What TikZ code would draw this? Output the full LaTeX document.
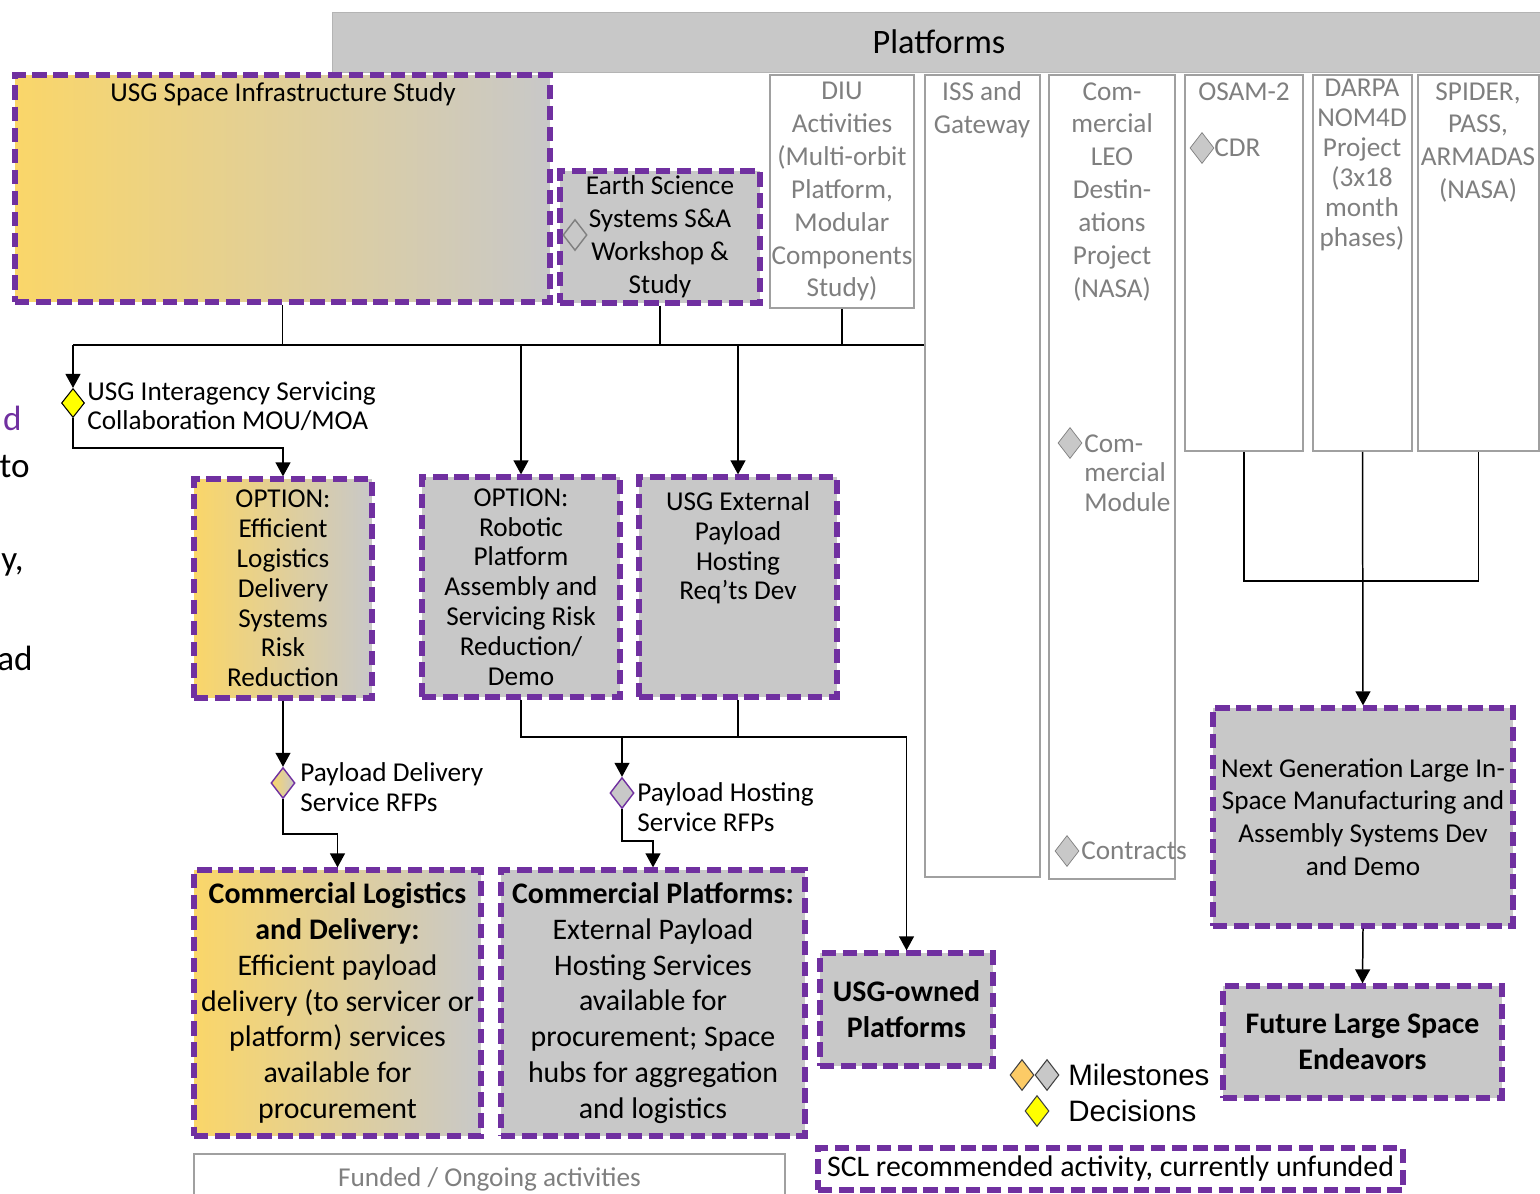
\documentclass[tikz,border=0pt]{standalone}
\usepackage{fontspec}
\setmainfont{Carlito}
\newfontfamily\legendfont{Liberation Sans}
\usetikzlibrary{arrows.meta,shapes.geometric}

\definecolor{sclpurple}{HTML}{7030A0}
\definecolor{boxgrey}{HTML}{C8C8C8}
\definecolor{boxedge}{HTML}{B4B4B4}
\definecolor{colgrey}{HTML}{7F7F7F}
\definecolor{coledge}{HTML}{A0A0A0}
\definecolor{gold}{HTML}{FAD669}
\definecolor{msgold}{HTML}{FCCB66}
\definecolor{decyellow}{HTML}{FFFF00}

\begin{document}
\begin{tikzpicture}[x=0.02cm, y=-0.02cm,
  every node/.style={font=\fontsize{15.5}{17}\selectfont},
  >={Triangle[width=8.5pt,length=8pt]},
  unfunded/.style={draw=sclpurple, line width=3pt, dash pattern=on 8.2pt off 3.8pt,
    inner sep=1pt, align=center},
  greybox/.style={unfunded, fill=boxgrey},
  goldbox/.style={unfunded, left color=gold, right color=boxgrey},
  ongoing/.style={draw=coledge, line width=1pt, fill=white},
  coltext/.style={text=colgrey, align=center, inner sep=0pt,
    font=\fontsize{15.5}{18.7}\selectfont},
  ms/.style={diamond, inner sep=0pt, minimum width=0.48cm, minimum height=0.62cm},
  bigtext/.style={font=\fontsize{17}{20.4}\selectfont}]

\useasboundingbox (0,0) rectangle (1540,1193);
\clip (0,0) rectangle (1540,1193);

\node [fill=boxgrey, draw=boxedge, minimum width=24.28cm, minimum height=1.2cm,
  font=\fontsize{19.5}{23}\selectfont] (plat) at (939,42) {Platforms};

% platform columns
\node [ongoing, minimum width=2.88cm, minimum height=4.66cm] (diu) at (842,191.5) {};
\node [ongoing, minimum width=2.3cm, minimum height=16.04cm] (iss) at (982.5,476) {};
\node [ongoing, minimum width=2.52cm, minimum height=16.08cm] (leo) at (1112,477) {};
\node [ongoing, minimum width=2.36cm, minimum height=7.52cm] (osam) at (1244,263) {};
\node [ongoing, minimum width=1.98cm, minimum height=7.52cm] (darpa) at (1362.5,263) {};
\node [ongoing, minimum width=2.42cm, minimum height=7.52cm] (spider) at (1478.5,263) {};

\node [coltext, anchor=north] (diutxt) at (842,82) {DIU\\Activities\\(Multi-orbit\\Platform,\\Modular\\Components\\Study)};
\node [coltext, anchor=north] (isstxt) at (982,81) {ISS and\\Gateway};
\node [coltext, anchor=north] (leotxt) at (1112,82) {Com-\\mercial\\LEO\\Destin-\\ations\\Project\\(NASA)};
\node [coltext, anchor=north] (osamtxt) at (1244,82) {OSAM-2};
\node [coltext, anchor=north, font=\fontsize{15.5}{17}\selectfont] (darpatxt) at (1362,79) {DARPA\\NOM4D\\Project\\(3x18\\month\\phases)};
\node [coltext, anchor=north] (spidertxt) at (1478,82) {SPIDER,\\PASS,\\ARMADAS\\(NASA)};

\node [ms, fill=boxgrey, draw=colgrey] (cdr) at (1202,148) {};
\node [coltext, anchor=west] (cdrtxt) at (1214,148) {CDR};
\node [ms, fill=boxgrey, draw=colgrey] (modms) at (1070,443) {};
\node [coltext, anchor=north west, align=left, font=\fontsize{15.5}{17}\selectfont] (modtxt) at (1084,434) {Com-\\mercial\\Module};
\node [ms, fill=boxgrey, draw=colgrey] (contr) at (1067,851) {};
\node [coltext, anchor=west] (contrtxt) at (1081,851) {Contracts};

% recommended activities
\node [goldbox, minimum width=10.7cm, minimum height=4.54cm] (infra) at (282.5,188.5) {};
\node [anchor=north, inner sep=0pt] (infratxt) at (283,82) {USG Space Infrastructure Study};
\node [greybox, font=\fontsize{15.5}{18.7}\selectfont, minimum width=4cm, minimum height=2.64cm] (earth) at (660,237)
  {Earth Science\\Systems S\&A\\Workshop \&\\Study};
\node [ms, draw=colgrey, line width=0.8pt] (earthms) at (575,235) {};

\node [ms, fill=decyellow, draw=black, line width=0.6pt, minimum width=0.46cm,
  minimum height=0.58cm] (decide) at (73,403) {};
\node [anchor=north west, align=left, inner sep=0pt] (decidetxt) at (87,381)
  {USG Interagency Servicing\\Collaboration MOU/MOA};

\node [goldbox, minimum width=3.56cm, minimum height=4.38cm] (logopt) at (283,588.5)
  {OPTION:\\Efficient\\Logistics\\Delivery\\Systems\\Risk\\Reduction};
\node [greybox, minimum width=3.96cm, minimum height=4.4cm] (robopt) at (521,587)
  {OPTION:\\Robotic\\Platform\\Assembly and\\Servicing Risk\\Reduction/\\Demo};
\node [greybox, minimum width=3.96cm, minimum height=4.4cm] (hostreq) at (738,587) {};
\node [anchor=north, align=center, inner sep=0pt] (hostreqtxt) at (738,491)
  {USG External\\Payload\\Hosting\\Req’ts Dev};

\node [ms, left color=gold, right color=boxgrey, draw=sclpurple, line width=0.8pt] (delrfp) at (283,783) {};
\node [anchor=north west, align=left, inner sep=0pt] (delrfptxt) at (300,762)
  {Payload Delivery\\Service RFPs};
\node [ms, fill=boxgrey, draw=sclpurple, line width=0.8pt] (hostrfp) at (622,793) {};
\node [anchor=north west, align=left, inner sep=0pt] (hostrfptxt) at (637,782)
  {Payload Hosting\\Service RFPs};

\node [goldbox, bigtext, minimum width=5.74cm, minimum height=5.32cm] (comlog) at (337.5,1003)
  {\textbf{Commercial Logistics}\\\textbf{and Delivery:}\\Efficient payload\\delivery (to servicer or\\platform) services\\available for\\procurement};
\node [greybox, bigtext, minimum width=6.08cm, minimum height=5.32cm] (complat) at (653,1003)
  {\textbf{Commercial Platforms:}\\External Payload\\Hosting Services\\available for\\procurement; Space\\hubs for aggregation\\and logistics};
\node [greybox, bigtext, minimum width=3.46cm, minimum height=2.26cm] (usgown) at (906.5,1009.5)
  {\textbf{USG-owned}\\\textbf{Platforms}};

\node [greybox, font=\fontsize{15.5}{18.7}\selectfont, minimum width=6cm, minimum height=4.36cm] (nextgen) at (1363,817)
  {Next Generation Large In-\\Space Manufacturing and\\Assembly Systems Dev\\and Demo};
\node [greybox, bigtext, minimum width=5.58cm, minimum height=2.24cm] (future) at (1362.5,1042)
  {\textbf{Future Large Space}\\\textbf{Endeavors}};

% legend
\node [ms, fill=msgold, draw=black!75, line width=0.6pt] (msa) at (1022,1075) {};
\node [ms, fill=boxgrey, draw=black!75, line width=0.6pt] (msb) at (1047,1075) {};
\node [ms, fill=decyellow, draw=black!75, line width=0.6pt] (msc) at (1037,1111) {};
\node [anchor=west, inner sep=0pt, font=\legendfont\fontsize{16.8}{20}\selectfont] (mstxt) at (1068,1075) {Milestones};
\node [anchor=west, inner sep=0pt, font=\legendfont\fontsize{16.8}{20}\selectfont] (dectxt) at (1068,1111) {Decisions};

\node [ongoing, text=colgrey, minimum width=11.82cm, minimum height=1cm] (funded) at (489.5,1179)
  {Funded / Ongoing activities};
\node [unfunded, bigtext, minimum width=11.7cm, minimum height=0.84cm, inner sep=0pt] (scl) at (1110.5,1169)
  {SCL recommended activity, currently unfunded};

% text running in from the left
\begin{scope}[every node/.style={anchor=east, inner sep=0pt, font=\fontsize{20}{24}\selectfont}]
  \node [text=sclpurple] (cutd) at (22,418) {d};
  \node (cutto) at (30,467) {to};
  \node (cuty) at (24,565) {y,};
  \node (cutad) at (33,658) {ad};
\end{scope}

\coordinate (bus) at (73,345);
\coordinate (hostbus) at (622,737);

\begin{scope}[line width=0.85pt]
  \draw (bus) -- (bus -| iss.west);
  \draw (infra.south) -- (infra.south |- bus); \draw (earth.south) --
  (earth.south |- bus); \draw (diu.south) -- (diu.south |- bus);
  \draw [->] (bus) -- (decide.north);
  \draw [->] (robopt.north |- bus) -- (robopt.north);
  \draw [->] (hostreq.north |- bus) -- (hostreq.north);

  \draw [->] (decide.south) -- ++(0,30) -| (logopt.north);
  \draw [->] (logopt.south) -- (delrfp.north);
  \draw [->] (delrfp.south) -- ++(0,35) -| (comlog.north);

  \draw (robopt.south) -- (robopt.south |- hostbus) -- (hostbus -| hostreq.south)
  -- (hostreq.south);
  \draw [->] (hostreq.south |- hostbus) -| (usgown.north);
  \draw [->] (hostbus) -- (hostrfp.north);
  \draw [->] (hostrfp.south) -- ++(0,32) -| (complat.north);

  \draw (osam.south) -- ++(0,129) -| (spider.south);
  \draw [->] (darpa.south) -- (nextgen.north);
  \draw [->] (nextgen.south) -- (future.north);
\end{scope}

\end{tikzpicture}
\end{document}
